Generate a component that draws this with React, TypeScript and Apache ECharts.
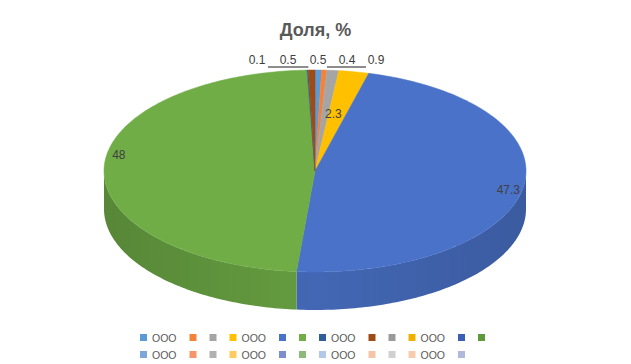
import React, { useEffect, useRef } from "react";
import * as echarts from "echarts";

const chartTitle = "Доля, %";
const categories = [
  "ООО", "", "", "ООО", "", "", "ООО", "", "", "ООО", "", "",
  "ООО", "", "", "ООО", "", "", "ООО", "", "", "ООО", "",
];
const values = [
  0.5, 0.4, 0.9, 2.3, 47.3, 48, 0.1, 0.5, 0, 0, 0, 0,
  0, 0, 0, 0, 0, 0, 0, 0, 0, 0, 0,
];
const colors = [
  "#5B9BD5", "#F4823A", "#A5A5A5", "#FFC000", "#4A72C8", "#70AD47",
  "#2F5F96", "#A04A14", "#9A9A9A", "#F0B000", "#3A5FB5", "#5F9A3A",
  "#7DA7D9", "#F4956A", "#B0B0B0", "#FFCA5F", "#7B8FCC", "#8DBA7A",
  "#B4C7E7", "#F5C5A5", "#D0D0D0", "#F8CBAD", "#B0B8DC",
];

const ids = categories.map((_, i) => `cat${i}`);

// layout (not data)
const GEO = { cx: 315, cy: 171, rx: 211, ry: 101, depth: 38 };
const SMALL_LABEL_Y = 60;
const LEADER_Y = 67;
const LABEL_NUDGE: Record<number, [number, number]> = { 5: [0, -14], 4: [0, 3], 3: [-5, 3] };

function shade(hex: string, f: number) {
  const n = parseInt(hex.slice(1), 16);
  const r = Math.round(((n >> 16) & 255) * f);
  const g = Math.round(((n >> 8) & 255) * f);
  const b = Math.round((n & 255) * f);
  return `rgb(${r},${g},${b})`;
}

function arc(a1: number, a2: number, f: number, dz: number) {
  const n = Math.max(2, Math.ceil(((a2 - a1) * 180) / Math.PI) + 1);
  const pts: number[][] = [];
  for (let i = 0; i < n; i++) {
    const t = a1 + ((a2 - a1) * i) / (n - 1);
    pts.push([GEO.cx + GEO.rx * f * Math.sin(t), GEO.cy - GEO.ry * f * Math.cos(t) + dz]);
  }
  return pts;
}

export default function App() {
  const ref = useRef<HTMLDivElement>(null);
  useEffect(() => {
    document.body.style.margin = "0";
    const chart = echarts.init(ref.current!, null, { renderer: "svg" });
    const total = values.reduce((a, b) => a + b, 0);
    const starts: number[] = [];
    let acc = 0;
    values.forEach((v) => {
      starts.push((acc / total) * Math.PI * 2);
      acc += v;
    });
    const ang = (i: number): [number, number] => [starts[i], starts[i] + (values[i] / total) * Math.PI * 2];

    const sideItem = (params: any) => {
      const i = params.dataIndex;
      if (!(values[i] > 0)) return { type: "group", children: [] };
      const [a1, a2] = ang(i);
      const lo = Math.max(a1, Math.PI / 2);
      const hi = Math.min(a2, (Math.PI * 3) / 2);
      if (hi <= lo) return { type: "group", children: [] };
      const pts = arc(lo, hi, 1, 0).concat(arc(lo, hi, 1, GEO.depth).reverse());
      return {
        type: "polygon",
        shape: { points: pts },
        style: {
          fill: new echarts.graphic.LinearGradient(
            GEO.cx - GEO.rx, 0, GEO.cx + GEO.rx, 0,
            [
              { offset: 0, color: shade(colors[i], 0.78) },
              { offset: 0.5, color: shade(colors[i], 0.9) },
              { offset: 1, color: shade(colors[i], 0.8) },
            ],
            true
          ),
          stroke: null,
        },
      };
    };

    const topItem = (params: any) => {
      const i = params.dataIndex;
      if (!(values[i] > 0)) return { type: "group", children: [] };
      const [a1, a2] = ang(i);
      const pts = [[GEO.cx, GEO.cy]].concat(arc(a1, a2, 1, 0));
      return {
        type: "polygon",
        shape: { points: pts },
        style: { fill: colors[i], stroke: colors[i], lineWidth: 0.5 },
      };
    };

    const smallIdx = values.map((v, i) => i).filter((i) => values[i] > 0 && values[i] < 1);
    const rightSmall = smallIdx.filter((i) => ang(i)[0] < Math.PI);
    const leftSmall = smallIdx.filter((i) => ang(i)[0] >= Math.PI).reverse();

    const labelItem = (params: any) => {
      const i = params.dataIndex;
      const v = values[i];
      if (!(v > 0)) return { type: "group", children: [] };
      const [a1, a2] = ang(i);
      const mid = (a1 + a2) / 2;
      const textStyle = {
        text: String(v),
        fill: "#404040",
        fontSize: 12,
        fontFamily: "Liberation Sans, Arial, sans-serif",
        align: "center",
        verticalAlign: "middle",
      };
      if (v >= 1) {
        const f = v > 10 ? 0.93 : 0.6;
        const nudge = LABEL_NUDGE[i] || [0, 0];
        const x = GEO.cx + GEO.rx * f * Math.sin(mid) + nudge[0];
        const y = GEO.cy - GEO.ry * f * Math.cos(mid) + nudge[1];
        return { type: "text", x, y, style: textStyle };
      }
      const children: any[] = [];
      let x: number;
      let edgeX: number;
      let innerX: number;
      const ri = rightSmall.indexOf(i);
      if (ri >= 0) {
        x = GEO.cx + 3 + 29 * ri;
        edgeX = GEO.cx + GEO.rx * Math.sin(a1);
        innerX = x - 10;
      } else {
        const li = leftSmall.indexOf(i);
        x = GEO.cx - 27 - 31 * li;
        edgeX = GEO.cx + GEO.rx * Math.sin(a2);
        innerX = x + 11;
      }
      children.push({ type: "text", x, y: SMALL_LABEL_Y, style: textStyle });
      if (Math.abs(x - edgeX) > 30) {
        children.push({
          type: "line",
          shape: { x1: innerX, y1: LEADER_Y, x2: edgeX, y2: LEADER_Y },
          style: { stroke: "#1a1a1a", lineWidth: 1 },
        });
      }
      return { type: "group", children };
    };

    const legendCommon = {
      orient: "horizontal",
      left: 140,
      padding: 0,
      itemWidth: 7,
      itemHeight: 7,
      itemGap: 13,
      icon: "rect",
      selectedMode: false,
      textStyle: { color: "#595959", fontSize: 10.5, fontFamily: "Liberation Sans, Arial, sans-serif" },
      formatter: (name: string) => categories[ids.indexOf(name)] || "",
    };

    chart.setOption({
      animation: false,
      backgroundColor: "#ffffff",
      title: {
        text: chartTitle,
        left: "center",
        top: 16,
        textStyle: {
          color: "#595959",
          fontSize: 18,
          fontWeight: "bold",
          fontFamily: "Liberation Sans, Arial, sans-serif",
        },
      },
      legend: [
        { ...legendCommon, top: 332, data: ids.slice(0, 12) },
        { ...legendCommon, top: 349, data: ids.slice(12) },
      ],
      series: [
        {
          type: "pie",
          name: "legendSource",
          radius: [0, 0],
          center: [-50, -50],
          silent: true,
          label: { show: false },
          labelLine: { show: false },
          data: values.map((v, i) => ({ name: ids[i], value: v, itemStyle: { color: colors[i] } })),
        },
        {
          type: "custom",
          name: "sides",
          coordinateSystem: "none",
          silent: true,
          z: 1,
          data: values.map((v) => [v]),
          renderItem: sideItem,
        },
        {
          type: "custom",
          name: "tops",
          coordinateSystem: "none",
          silent: true,
          z: 2,
          data: values.map((v) => [v]),
          renderItem: topItem,
        },
        {
          type: "custom",
          name: "labels",
          coordinateSystem: "none",
          silent: true,
          z: 3,
          data: values.map((v) => [v]),
          renderItem: labelItem,
        },
      ],
    });
    return () => chart.dispose();
  }, []);
  return <div ref={ref} style={{ width: 631, height: 364 }} />;
}
